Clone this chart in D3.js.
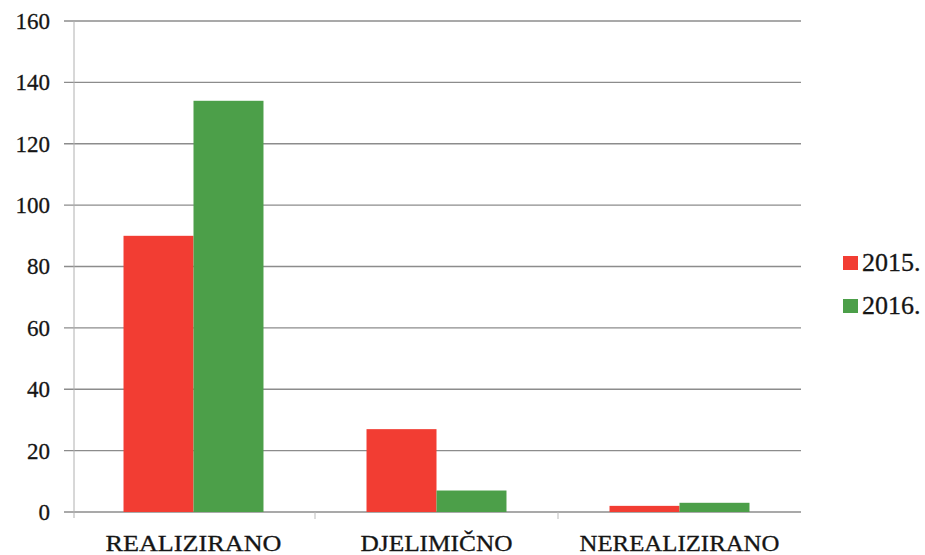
<!DOCTYPE html>
<html><head><meta charset="utf-8">
<script src="https://cdn.jsdelivr.net/npm/d3@7"></script>
<style>body{margin:0;background:#fff} text{font-family:"Liberation Serif","DejaVu Serif",serif;}</style>
</head><body>
<svg id="c" width="925" height="555"></svg>
<script>
const categories = ["REALIZIRANO", "DJELIMIČNO", "NEREALIZIRANO"];
const seriesNames = ["2015.", "2016."];
const values2015 = [90, 27, 2];
const values2016 = [134, 7, 3];
const yTicks = [0, 20, 40, 60, 80, 100, 120, 140, 160];
const colors = ["#f23d33", "#4c9f49"];

const svg = d3.select("#c");
const L = 72, R = 801, T = 21, B = 512;
const x = d3.scaleBand().domain(categories).range([L, R]).paddingInner(0.424).paddingOuter(0.212);
const xs = d3.scaleBand().domain(seriesNames).range([0, x.bandwidth()]);
const y = d3.scaleLinear().domain([0, 160]).range([B, T]);
const font = '"Liberation Serif", "DejaVu Serif", serif';

// y tick labels
const gy = svg.append("g").attr("transform", `translate(${L - 8},0)`);
gy.call(d3.axisLeft(y).tickValues(yTicks).tickSize(0).tickPadding(14));
gy.select(".domain").remove();
gy.selectAll("text").style("font-family", font).style("font-size", "23px").attr("fill", "#151515")
  .attr("stroke", "#151515").attr("stroke-width", 0.3);
// gridlines
svg.append("g").selectAll("line").data(yTicks).join("line")
  .attr("x1", L - 8).attr("x2", R).attr("y1", d => y(d)).attr("y2", d => y(d))
  .attr("stroke", "#8c8c8c").attr("stroke-width", 1.3);
// vertical axis line
svg.append("line").attr("x1", L + 2).attr("x2", L + 2).attr("y1", T).attr("y2", B + 6)
  .attr("stroke", "#b0b0b0").attr("stroke-width", 1);

// category separator ticks
const seps = categories.slice(1).map(c => x(c) - x.step() * x.paddingInner() / 2);
svg.append("g").selectAll("line").data(seps).join("line")
  .attr("x1", d => d).attr("x2", d => d).attr("y1", B).attr("y2", B + 7)
  .attr("stroke", "#bbb");

// bars
const data = categories.map((c, i) => ({c, v: [values2015[i], values2016[i]]}));
const g = svg.append("g").selectAll("g").data(data).join("g")
  .attr("transform", d => `translate(${x(d.c)},0)`);
g.selectAll("rect").data(d => d.v.map((v, j) => ({v, s: seriesNames[j], j}))).join("rect")
  .attr("x", d => xs(d.s)).attr("width", xs.bandwidth())
  .attr("y", d => y(d.v)).attr("height", d => B - y(d.v))
  .attr("fill", d => colors[d.j]);

// x labels
const gx = svg.append("g").attr("transform", `translate(0,${B})`)
  .call(d3.axisBottom(x).tickSize(0).tickPadding(22));
gx.select(".domain").remove();
const lens = {"REALIZIRANO": 176, "DJELIMIČNO": 152, "NEREALIZIRANO": 200};
gx.selectAll("text").style("font-family", font).style("font-size", "24px").attr("fill", "#151515")
  .attr("stroke", "#151515").attr("stroke-width", 0.3)
  .attr("textLength", d => lens[d]).attr("lengthAdjust", "spacingAndGlyphs");

// legend
const lg = svg.append("g").selectAll("g").data(seriesNames).join("g")
  .attr("transform", (d, i) => `translate(843,${256 + i * 43})`);
lg.append("rect").attr("width", 15).attr("height", 14).attr("fill", (d, i) => colors[i]);
lg.append("text").attr("x", 19).attr("y", 15).text(d => d)
  .style("font-family", font).style("font-size", "26px").attr("fill", "#151515")
  .attr("stroke", "#151515").attr("stroke-width", 0.3);
</script>
</body></html>
